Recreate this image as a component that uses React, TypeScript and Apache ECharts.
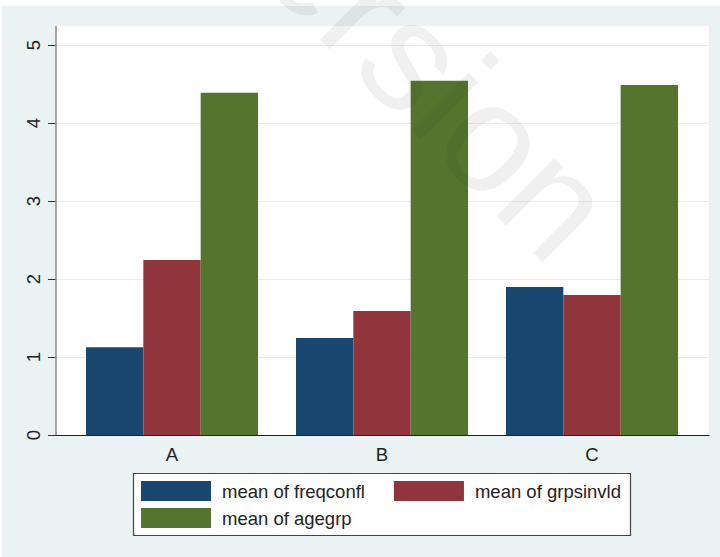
import React, { useEffect, useRef } from "react";
import * as echarts from "echarts";

const categories = ["A", "B", "C"];
const freqconfl = [1.124, 1.244, 1.897];
const grpsinvld = [2.244, 1.59, 1.795];
const agegrp = [4.388, 4.542, 4.487];
const yTicks = [0, 5, 1];
const seriesNames = ["mean of freqconfl", "mean of grpsinvld", "mean of agegrp"];

const FONT = "'Liberation Sans', Arial, Helvetica, sans-serif";

export default function App() {
  const ref = useRef<HTMLDivElement>(null);
  useEffect(() => {
    if (!ref.current) return;
    const chart = echarts.init(ref.current, null, { renderer: "svg" });
    const colors = ["#1a476f", "#90353b", "#55752f"];
    chart.setOption({
      animation: false,
      backgroundColor: "#ffffff",
      textStyle: { fontFamily: FONT },
      grid: [
        { left: 56, right: 11, top: 45, bottom: 122 },
        { left: 67, width: 630, top: 45, bottom: 122 },
      ],
      xAxis: [
        {
          gridIndex: 0,
          type: "value",
          min: 0,
          max: 1,
          axisLine: { show: true, lineStyle: { color: "#222", width: 1.2 } },
          axisTick: { show: false },
          axisLabel: { show: false },
          splitLine: { show: false },
        },
        {
          gridIndex: 1,
          type: "category",
          data: categories,
          axisLine: { show: false },
          axisTick: { show: false },
          axisLabel: { color: "#222", fontSize: 18.5, fontFamily: FONT, margin: 10 },
        },
      ],
      yAxis: [
        {
          gridIndex: 0,
          type: "value",
          min: yTicks[0],
          max: yTicks[1],
          interval: yTicks[2],
          axisLine: { show: false },
          axisTick: { show: true, length: 8, lineStyle: { color: "#333", width: 1 } },
          axisLabel: { color: "#222", fontSize: 18.5, fontFamily: FONT, rotate: 90, margin: 13 },
          splitLine: { show: true, lineStyle: { color: "#e4edf0", width: 1 } },
        },
        {
          gridIndex: 1,
          type: "value",
          min: yTicks[0],
          max: yTicks[1],
          show: false,
          splitLine: { show: false },
        },
      ],
      legend: [
        {
          left: 141,
          top: 481,
          padding: 0,
          itemWidth: 70,
          itemHeight: 20,
          itemGap: 29,
          icon: "rect",
          data: [seriesNames[0], seriesNames[1]],
          textStyle: { fontSize: 18.5, color: "#222", fontFamily: FONT, padding: [0, 0, 0, 6] },
        },
        {
          left: 141,
          top: 508,
          padding: 0,
          itemWidth: 70,
          itemHeight: 20,
          itemGap: 29,
          icon: "rect",
          data: [seriesNames[2]],
          textStyle: { fontSize: 18.5, color: "#222", fontFamily: FONT, padding: [0, 0, 0, 6] },
        },
      ],
      graphic: [
        { type: "rect", z: -10, shape: { x: 2, y: 6, width: 718, height: 551 }, style: { fill: "#eaf2f3" } },
        { type: "rect", z: -9, shape: { x: 56, y: 26, width: 653, height: 409 }, style: { fill: "#ffffff" } },
        { type: "line", z: 5, shape: { x1: 56, y1: 26, x2: 56, y2: 435 }, style: { stroke: "#8a8a8a", lineWidth: 1.5 } },
        { type: "rect", z: 3, shape: { x: 133.5, y: 473.5, width: 497, height: 62 }, style: { fill: "#ffffff", stroke: "#444", lineWidth: 1.2 } },
        {
          type: "text",
          z: 100,
          x: 411,
          y: 55,
          rotation: -Math.PI / 4,
          style: {
            text: "version",
            fontSize: 155,
            fontFamily: FONT,
            fill: "rgba(0,0,0,0.06)",
            align: "center",
            verticalAlign: "middle",
          },
        },
      ],
      series: [
        { name: seriesNames[0], type: "bar", xAxisIndex: 1, yAxisIndex: 1, data: freqconfl, barGap: "0%", barCategoryGap: "18.1%", itemStyle: { color: colors[0] } },
        { name: seriesNames[1], type: "bar", xAxisIndex: 1, yAxisIndex: 1, data: grpsinvld, barGap: "0%", barCategoryGap: "18.1%", itemStyle: { color: colors[1] } },
        { name: seriesNames[2], type: "bar", xAxisIndex: 1, yAxisIndex: 1, data: agegrp, barGap: "0%", barCategoryGap: "18.1%", itemStyle: { color: colors[2] } },
      ],
    });
    return () => chart.dispose();
  }, []);
  return <div ref={ref} style={{ position: "fixed", left: 0, top: 0, width: 720, height: 557 }} />;
}
